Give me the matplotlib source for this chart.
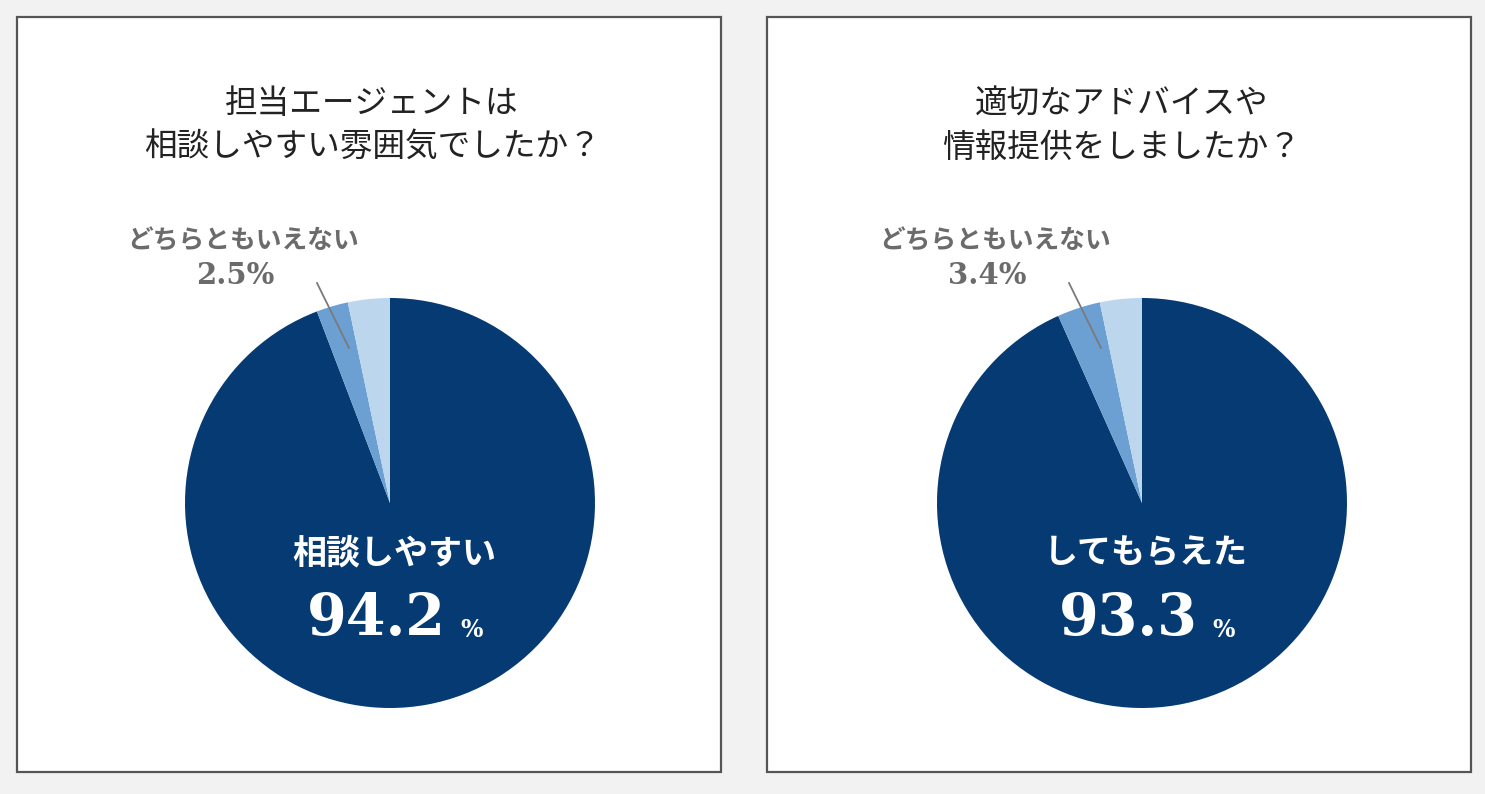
import matplotlib
matplotlib.use('Agg')

import matplotlib.pyplot as plt
from matplotlib.patches import Rectangle

plt.rcParams['font.family'] = ['Noto Sans CJK JP', 'DejaVu Sans']

# data
titles = ['担当エージェントは\n相談しやすい雰囲気でしたか？',
          '適切なアドバイスや\n情報提供をしましたか？']
main_labels = ['相談しやすい', 'してもらえた']
main_values = [94.2, 93.3]
neutral_values = [2.5, 3.4]
other_values = [3.3, 3.3]
neutral_label = 'どちらともいえない'

colors = ['#063a73', '#6c9fd2', '#bcd6ee']
serif = ['DejaVu Serif', 'Liberation Serif']

W, H = 1485, 794
fig = plt.figure(figsize=(W / 100, H / 100), dpi=100)
fig.patch.set_facecolor('#f3f2f2')
ax = fig.add_axes([0, 0, 1, 1])

def Y(y):
    # pixel row (from top) to data y
    return H - y

panel_x = [17, 767]
panel_w = 704
pie_cx = [390, 1142]

for i in range(2):
    x0 = panel_x[i]
    ax.add_patch(Rectangle((x0, Y(772)), panel_w, 755, facecolor='white',
                           edgecolor='#555555', lw=1.6, zorder=1))

    cx = pie_cx[i]
    vals = [main_values[i], neutral_values[i], other_values[i]]
    ax.pie(vals, colors=colors, startangle=90, counterclock=False,
           center=(cx, Y(503)), radius=205, frame=True,
           wedgeprops=dict(linewidth=0, zorder=2))

    ax.text(x0 + panel_w / 2 + 3, Y(126), titles[i], ha='center', va='center',
            fontsize=23.5, color='#222222', linespacing=1.45, zorder=5)

    # neutral label + leader line
    lx = cx - 147
    ax.text(lx, Y(241), neutral_label, ha='center', va='center', fontsize=18.5,
            fontweight='bold', color='#6b6b6b', zorder=5)
    ax.text(lx - 8, Y(275), '{}%'.format(neutral_values[i]), ha='center', va='center',
            fontsize=21, fontweight='bold', color='#6b6b6b',
            family=serif, zorder=5)
    ax.plot([cx - 73, cx - 41], [Y(283), Y(348)], color='#7a7a7a', lw=1.3, zorder=4)

    # center label
    ax.text(cx + 4, Y(553), main_labels[i], ha='center', va='center', fontsize=24.5,
            fontweight='bold', color='white', zorder=5)
    ax.text(cx + 56, Y(619), '{}'.format(main_values[i]), ha='right', va='center',
            fontsize=41, fontweight='bold', color='white',
            family=serif, zorder=5)
    ax.text(cx + 70, Y(630), '%', ha='left', va='center', fontsize=17,
            fontweight='bold', color='white',
            family=serif, zorder=5)

ax.set_xlim(0, W)
ax.set_ylim(0, H)
ax.set_aspect('equal')
ax.axis('off')

plt.savefig('out.png', dpi=100, facecolor=fig.get_facecolor())
